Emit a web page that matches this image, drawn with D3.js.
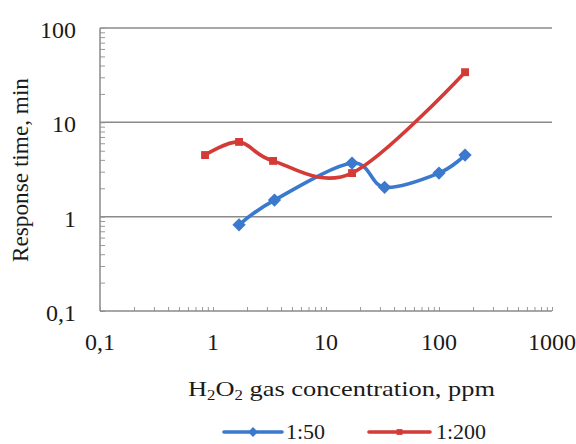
<!DOCTYPE html>
<html>
<head>
<meta charset="utf-8">
<script src="https://cdn.jsdelivr.net/npm/d3@7"></script>
<style>
  html, body { margin: 0; padding: 0; background: #fff; }
  svg { display: block; }
</style>
</head>
<body>
<svg id="chart" width="576" height="444"></svg>
<script>
// Response time vs H2O2 concentration, two dilution ratios
const seriesNames = ["1:50", "1:200"];
const conc50 = [1.7, 3.5, 17, 33, 100, 170];
const time50 = [0.82, 1.5, 3.7, 2.05, 2.9, 4.5];
const conc200 = [0.85, 1.7, 3.4, 17, 170];
const time200 = [4.5, 6.2, 3.9, 2.9, 34];
const xTickValues = [0.1, 1, 10, 100, 1000];
const xTickLabels = ["0,1", "1", "10", "100", "1000"];
const yTickValues = [0.1, 1, 10, 100];
const yTickLabels = ["0,1", "1", "10", "100"];
const colors = ["#3b79cf", "#d43a36"];

const serif = "'Liberation Serif', 'Times New Roman', Times, serif";
const svg = d3.select("#chart")
  .attr("font-family", serif);

const plotLeft = 100, plotRight = 552, plotTop = 28, plotBottom = 311;

const x = d3.scaleLog().domain([0.1, 1000]).range([plotLeft, plotRight]);
const y = d3.scaleLog().domain([0.1, 100]).range([plotBottom, plotTop]);

// 1..9 multiples of each decade, used for the small inward ticks
function minorTicks(lo, hi) {
  const out = [];
  for (let d = lo; d < hi - 1e-9; d *= 10) {
    for (let k = 1; k <= 9; k++) out.push(d * k);
  }
  out.push(hi);
  return out;
}

// horizontal gridlines
svg.append("g").selectAll("line")
  .data(yTickValues.slice(1))
  .join("line")
  .attr("x1", plotLeft).attr("x2", plotRight)
  .attr("y1", d => y(d)).attr("y2", d => y(d))
  .attr("stroke", "#8a8a8a").attr("stroke-width", 1.5);

// y axis
const yAxis = svg.append("g").attr("transform", `translate(${plotLeft},0)`)
  .call(d3.axisRight(y).tickValues(minorTicks(0.1, 100)).tickSize(5).tickFormat(""));
yAxis.select(".domain").remove();
yAxis.selectAll("line").attr("stroke", "#9a9a9a");
svg.append("line").attr("x1", plotLeft).attr("x2", plotLeft).attr("y1", plotTop).attr("y2", plotBottom)
  .attr("stroke", "#8a8a8a").attr("stroke-width", 1.5);

// x axis
const xAxis = svg.append("g").attr("transform", `translate(0,${plotBottom})`)
  .call(d3.axisTop(x).tickValues(minorTicks(0.1, 1000)).tickSize(4).tickFormat(""));
xAxis.select(".domain").remove();
xAxis.selectAll("line").attr("stroke", "#9a9a9a");
svg.append("line").attr("x1", plotLeft).attr("x2", plotRight).attr("y1", plotBottom).attr("y2", plotBottom)
  .attr("stroke", "#8a8a8a").attr("stroke-width", 1.5);

// tick labels
svg.append("g").selectAll("text")
  .data(yTickValues)
  .join("text")
  .attr("x", 76).attr("y", d => y(d) + 10)
  .attr("text-anchor", "end")
  .attr("font-size", 24)
  .attr("fill", "#1a1a1a")
  .text((d, i) => yTickLabels[i]);

svg.append("g").selectAll("text")
  .data(xTickValues)
  .join("text")
  .attr("x", d => x(d)).attr("y", 350)
  .attr("text-anchor", "middle")
  .attr("font-size", 24)
  .attr("fill", "#1a1a1a")
  .text((d, i) => xTickLabels[i]);

// axis titles
svg.append("text")
  .attr("transform", "translate(28,170) rotate(-90)")
  .attr("text-anchor", "middle")
  .attr("font-size", 23)
  .attr("fill", "#1a1a1a")
  .attr("textLength", 184)
  .attr("lengthAdjust", "spacingAndGlyphs")
  .text("Response time, min");

const xt = svg.append("text")
  .attr("x", 188).attr("y", 396)
  .attr("font-size", 22)
  .attr("fill", "#1a1a1a")
  .attr("textLength", 307)
  .attr("lengthAdjust", "spacingAndGlyphs");
xt.append("tspan").text("H");
xt.append("tspan").attr("font-size", 14).attr("dy", 4).text("2");
xt.append("tspan").attr("dy", -4).text("O");
xt.append("tspan").attr("font-size", 14).attr("dy", 4).text("2");
xt.append("tspan").attr("dy", -4).text(" gas concentration, ppm");

// series: smoothed lines with markers
const series = [
  { name: seriesNames[0], xs: conc50, ys: time50, color: colors[0], diamond: true },
  { name: seriesNames[1], xs: conc200, ys: time200, color: colors[1], diamond: false }
];

const line = d3.line()
  .x(d => x(d[0])).y(d => y(d[1]))
  .curve(d3.curveCardinal.tension(0));

function marker(sel, s, scale) {
  const size = s.diamond ? 88 * scale : 62 * scale;
  sel.attr("d", d3.symbol().type(d3.symbolSquare).size(size))
    .attr("fill", s.color);
}

series.forEach(s => {
  const pts = s.xs.map((v, i) => [v, s.ys[i]]);
  svg.append("path")
    .datum(pts)
    .attr("d", line)
    .attr("fill", "none")
    .attr("stroke", s.color)
    .attr("stroke-width", 3.6)
    .attr("stroke-linejoin", "round")
    .attr("stroke-linecap", "round");
  svg.append("g").selectAll("path")
    .data(pts)
    .join("path")
    .attr("transform", d => `translate(${x(d[0])},${y(d[1])})` + (s.diamond ? " rotate(45)" : ""))
    .call(marker, s, 1);
});

// legend
const legendItems = [
  { x0: 224, x1: 282, tx: 286 },
  { x0: 369, x1: 430, tx: 436 }
];
series.forEach((s, i) => {
  const L = legendItems[i];
  const ly = 432;
  svg.append("line")
    .attr("x1", L.x0).attr("x2", L.x1).attr("y1", ly).attr("y2", ly)
    .attr("stroke", s.color).attr("stroke-width", 3.6).attr("stroke-linecap", "round");
  svg.append("path")
    .attr("transform", `translate(${(L.x0 + L.x1) / 2},${ly})` + (s.diamond ? " rotate(45)" : ""))
    .call(marker, s, 0.55);
  svg.append("text")
    .attr("x", L.tx).attr("y", ly + 7)
    .attr("font-size", 22)
    .attr("fill", "#1a1a1a")
    .text(s.name);
});
</script>
</body>
</html>
